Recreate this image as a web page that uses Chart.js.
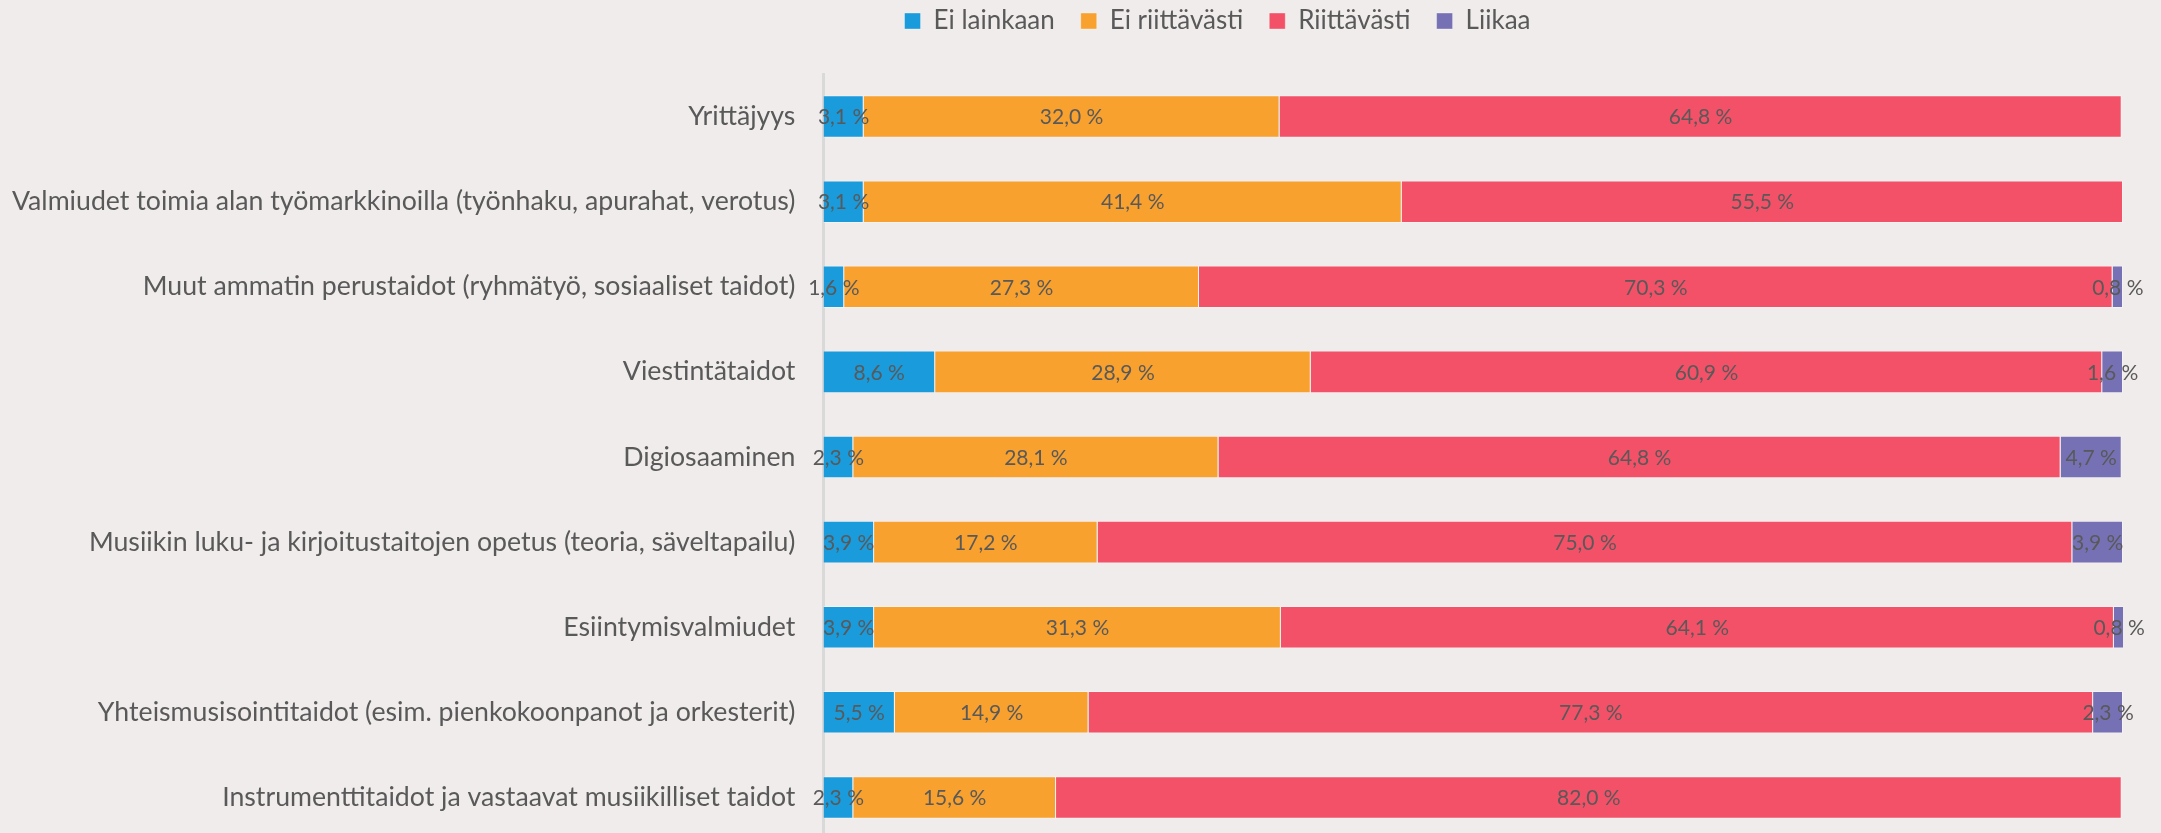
<!DOCTYPE html>
<html>
<head>
<meta charset="utf-8">
<script src="https://cdn.jsdelivr.net/npm/chart.js@4.4.1/dist/chart.umd.min.js"></script>
<style>
  html, body { margin: 0; padding: 0; background: #F0ECEB; overflow: hidden; }
  #wrap { width: 2161px; height: 840px; position: relative; }
</style>
</head>
<body>
<div id="wrap"><canvas id="chart"></canvas></div>
<script>
// --- Data (percent shares per skill area)
const categories = [
  "Yrittäjyys",
  "Valmiudet toimia alan työmarkkinoilla (työnhaku, apurahat, verotus)",
  "Muut ammatin perustaidot (ryhmätyö, sosiaaliset taidot)",
  "Viestintätaidot",
  "Digiosaaminen",
  "Musiikin luku- ja kirjoitustaitojen opetus (teoria, säveltapailu)",
  "Esiintymisvalmiudet",
  "Yhteismusisointitaidot (esim. pienkokoonpanot ja orkesterit)",
  "Instrumenttitaidot ja vastaavat musiikilliset taidot"
];
const eiLainkaan    = [3.1, 3.1, 1.6, 8.6, 2.3, 3.9, 3.9, 5.5, 2.3];
const eiRiittavasti = [32.0, 41.4, 27.3, 28.9, 28.1, 17.2, 31.3, 14.9, 15.6];
const riittavasti   = [64.8, 55.5, 70.3, 60.9, 64.8, 75.0, 64.1, 77.3, 82.0];
const liikaa        = [0, 0, 0.8, 1.6, 4.7, 3.9, 0.8, 2.3, 0];

const seriesNames  = ["Ei lainkaan", "Ei riittävästi", "Riittävästi", "Liikaa"];
const seriesColors = ["#1A9BDC", "#F8A12F", "#F35168", "#7671B4"];

const FONT = "Lato, 'Open Sans', sans-serif";
const TEXT = "#595959";

function fmtPct(v){
  return v.toFixed(1).replace(".", ",") + " %";
}

// --- Value labels centred in each segment
const segmentLabels = {
  id: "segmentLabels",
  afterDatasetsDraw(chart){
    const ctx = chart.ctx;
    ctx.save();
    ctx.font = "21px " + FONT;
    ctx.fillStyle = TEXT;
    ctx.textAlign = "center";
    ctx.textBaseline = "middle";
    chart.data.datasets.forEach((ds, di) => {
      const meta = chart.getDatasetMeta(di);
      meta.data.forEach((bar, i) => {
        const v = ds.data[i];
        if (!v) return;
        ctx.fillText(fmtPct(v), (bar.x + bar.base) / 2, bar.y + 1);
      });
    });
    ctx.restore();
  }
};

// --- Legend sits right of the canvas centre and close to the top in the original
const legendShift = {
  id: "legendShift",
  afterLayout(chart){
    const lg = chart.legend;
    if (!lg) return;
    lg.left += 160;
    lg.right += 160;
    lg.top -= 30;
    lg.bottom -= 30;
  }
};

const datasets = [eiLainkaan, eiRiittavasti, riittavasti, liikaa].map((arr, i) => ({
  label: seriesNames[i],
  data: arr,
  backgroundColor: seriesColors[i],
  borderColor: "rgba(255,255,255,0.35)",
  borderWidth: 1,
  categoryPercentage: 1,
  barPercentage: 0.5
}));

new Chart(document.getElementById("chart"), {
  type: "bar",
  data: { labels: categories, datasets },
  plugins: [segmentLabels, legendShift],
  options: {
    indexAxis: "y",
    responsive: true,
    maintainAspectRatio: false,
    devicePixelRatio: 1,
    animation: false,
    layout: { padding: { top: 12, right: 38, bottom: 0, left: -8 } },
    plugins: {
      legend: {
        position: "top",
        labels: {
          color: TEXT,
          font: { family: FONT, size: 26 },
          boxWidth: 16,
          boxHeight: 16,
          padding: 26
        }
      },
      tooltip: { enabled: false }
    },
    scales: {
      x: {
        stacked: true,
        min: 0,
        max: 100,
        display: false
      },
      y: {
        stacked: true,
        grid: { display: false },
        border: { display: true, color: "#D9D9D9", width: 3 },
        ticks: {
          color: TEXT,
          font: { family: FONT, size: 26.7 },
          padding: 20
        },
        // no extra room for half label heights at the ends
        afterFit(scale){
          scale.paddingTop = 0;
          scale.paddingBottom = 0;
        }
      }
    }
  }
});
</script>
</body>
</html>
